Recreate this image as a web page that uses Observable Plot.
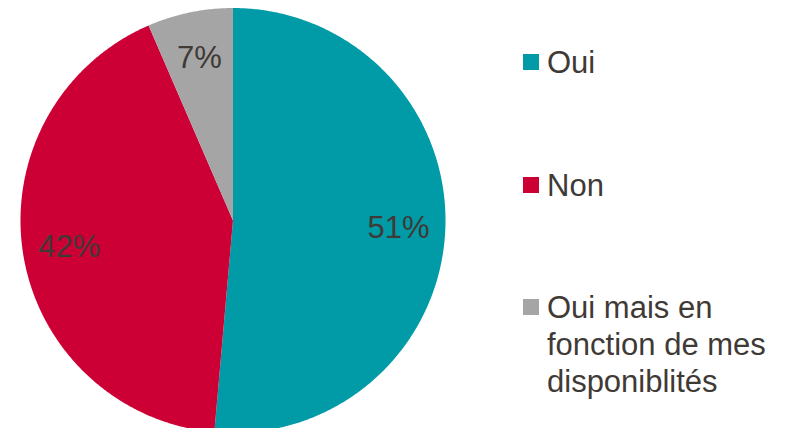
<!DOCTYPE html>
<html>
<head>
<meta charset="utf-8">
<script src="https://cdn.jsdelivr.net/npm/d3@7"></script>
<script src="https://cdn.jsdelivr.net/npm/@observablehq/plot@0.6"></script>
<style>
  html, body { margin: 0; padding: 0; background: #fff; }
  #wrap { position: relative; width: 788px; height: 428px; overflow: hidden; font-family: "Liberation Sans", Arial, sans-serif; }
  #chart { position: absolute; left: 0; top: 0; }
  #legend { position: absolute; left: 523px; top: 44px; color: #3F3A36; font-size: 31px; line-height: 37px; }
  .item { display: flex; align-items: flex-start; margin-bottom: 85.5px; }
  .sw { width: 16px; height: 16px; margin-top: 10px; margin-right: 8px; flex: none; }
  .lab { width: 241px; }
</style>
</head>
<body>
<div id="wrap">
  <div id="chart"></div>
  <div id="legend"></div>
</div>
<script>
// Data
const categories = ["Oui", "Non", "Oui mais en fonction de mes disponiblités"];
const shares = [51.4, 42.1, 6.5];
const colors = ["#009BA6", "#CC0035", "#A5A5A5"];

// Layout
const W = 500, H = 428;
const cx = 232.5, cy = 220, R = 212.5;

const data = categories.map((c, i) => ({cat: c, value: shares[i]}));
const total = d3.sum(shares);
const arcs = d3.pie().sort(null).value(d => d.value)(data);

// Polygon points for each slice (angles clockwise from 12 o'clock)
const pts = [];
arcs.forEach(a => {
  const cat = a.data.cat;
  pts.push({cat, x: cx, y: cy});
  const n = Math.max(8, Math.ceil((a.endAngle - a.startAngle) / (Math.PI / 360)));
  for (let k = 0; k <= n; k++) {
    const t = a.startAngle + (a.endAngle - a.startAngle) * k / n;
    pts.push({cat, x: cx + R * Math.sin(t), y: cy - R * Math.cos(t)});
  }
  pts.push({cat, x: cx, y: cy});
});

const labels = arcs.map(a => {
  const m = (a.startAngle + a.endAngle) / 2;
  const rr = R * 0.78;
  return {
    text: Math.round(a.data.value / total * 100) + "%",
    x: cx + rr * Math.sin(m),
    y: cy - rr * Math.cos(m)
  };
});

const plot = Plot.plot({
  width: W,
  height: H,
  margin: 0,
  x: {domain: [0, W], range: [0, W], axis: null},
  y: {domain: [0, H], range: [0, H], axis: null},
  color: {domain: categories, range: colors},
  style: {background: "transparent", fontFamily: "Liberation Sans, Arial, sans-serif"},
  marks: [
    Plot.line(pts, {x: "x", y: "y", z: "cat", fill: "cat", stroke: "none", curve: "linear"}),
    Plot.text(labels, {x: "x", y: "y", text: "text", fontSize: 31, fill: "#3F3A36", textAnchor: "middle", lineAnchor: "middle"})
  ]
});
document.getElementById("chart").appendChild(plot);

// Legend
const leg = document.getElementById("legend");
categories.forEach((c, i) => {
  const item = document.createElement("div");
  item.className = "item";
  const sw = document.createElement("div");
  sw.className = "sw";
  sw.style.background = colors[i];
  const lab = document.createElement("div");
  lab.className = "lab";
  lab.textContent = c;
  item.appendChild(sw);
  item.appendChild(lab);
  leg.appendChild(item);
});
</script>
</body>
</html>
